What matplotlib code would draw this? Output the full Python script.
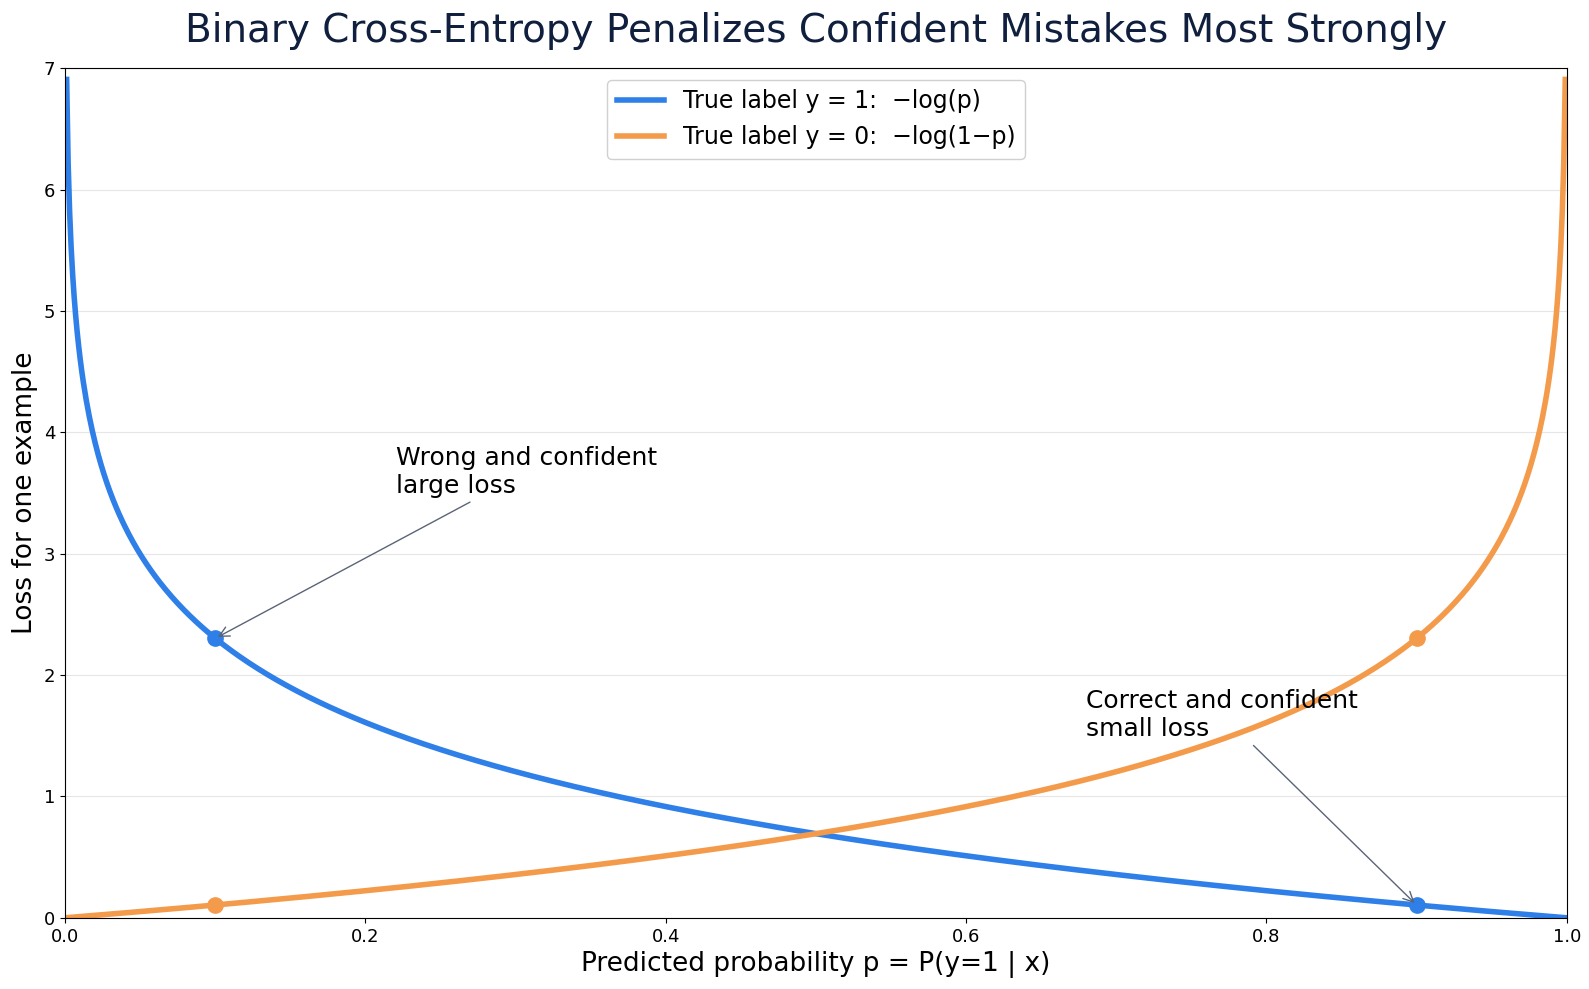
import numpy as np
import matplotlib
matplotlib.use("Agg")
import matplotlib.pyplot as plt

# predicted probabilities along the x axis (curve is the loss function itself)
P_MIN, P_MAX, N_POINTS = 0.001, 0.999, 999
highlight_p = [0.1, 0.9]

legend_pos = "True label y = 1:  \u2212log(p)"
legend_neg = "True label y = 0:  \u2212log(1\u2212p)"
notes = ["Wrong and confident\nlarge loss", "Correct and confident\nsmall loss"]
note_xy = [(0.22, 3.5), (0.68, 1.5)]

BLUE = "#2f7fe8"
ORANGE = "#f39b4b"
ARROW = "#5b6478"

p = np.linspace(P_MIN, P_MAX, N_POINTS)
loss_pos = -np.log(p)
loss_neg = -np.log(1 - p)
hp = np.array(highlight_p)

fig, ax = plt.subplots(figsize=(15.89, 9.89), dpi=100)
fig.subplots_adjust(left=0.041, right=0.986, top=0.931, bottom=0.072)

ax.plot(p, loss_pos, color=BLUE, linewidth=4, label=legend_pos)
ax.plot(p, loss_neg, color=ORANGE, linewidth=4, label=legend_neg)
ax.plot(hp, -np.log(hp), "o", color=BLUE, markersize=11)
ax.plot(hp, -np.log(1 - hp), "o", color=ORANGE, markersize=11)

ax.annotate(notes[0], xy=(hp[0], -np.log(hp[0])), xytext=note_xy[0],
            fontsize=18, arrowprops=dict(arrowstyle="->", color=ARROW, lw=1))
ax.annotate(notes[1], xy=(hp[1], -np.log(hp[1])), xytext=note_xy[1],
            fontsize=18, arrowprops=dict(arrowstyle="->", color=ARROW, lw=1))

ax.set_xlim(0, 1)
ax.set_ylim(0, 7)
ax.set_yticks(range(0, 8))
ax.tick_params(labelsize=13)
ax.yaxis.grid(True, color="#e6e6e6", linewidth=0.8)
ax.set_axisbelow(True)

ax.set_xlabel("Predicted probability p = P(y=1 | x)", fontsize=19)
ax.set_ylabel("Loss for one example", fontsize=19)
ax.set_title("Binary Cross-Entropy Penalizes Confident Mistakes Most Strongly",
             fontsize=28, color="#0f1f3d", pad=19)
ax.legend(loc="upper center", fontsize=17, framealpha=1, edgecolor="#d0d0d0")

plt.savefig("out.png", dpi=100)
plt.close()
